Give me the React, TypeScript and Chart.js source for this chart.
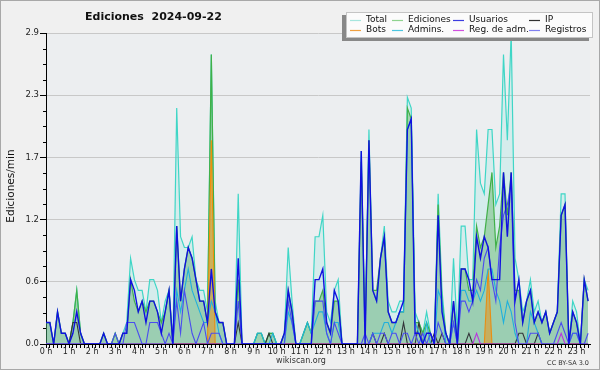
import React, { useEffect, useRef } from "react";
import { Chart, registerables } from "chart.js";
Chart.register(...registerables);

// ---- data (10-minute bins, edits/min) ----
const hourLabels = [
  "0 h", "1 h", "2 h", "3 h", "4 h", "5 h", "6 h", "7 h", "8 h", "9 h", "10 h", "11 h",
  "12 h", "13 h", "14 h", "15 h", "16 h", "17 h", "18 h", "19 h", "20 h", "21 h", "22 h", "23 h",
];
const yTickValues = [0, 0.58, 1.16, 1.74, 2.32, 2.9];

const total = [
  0.2, 0.2, 0, 0.3, 0.1, 0.1,
  0, 0.2, 0.5, 0.1, 0, 0,
  0, 0, 0, 0.1, 0, 0,
  0.1, 0, 0.1, 0.2, 0.8, 0.6,
  0.5, 0.5, 0.3, 0.6, 0.6, 0.5,
  0.2, 0.4, 0.5, 0, 2.2, 1.0,
  0.9, 0.9, 1.0, 0.6, 0.5, 0.5,
  0.3, 2.7, 0.4, 0.2, 0.2, 0,
  0, 0, 1.4, 0, 0, 0,
  0, 0.1, 0.1, 0, 0.1, 0.1,
  0, 0, 0.1, 0.9, 0.4, 0,
  0, 0.1, 0.2, 0.1, 1.0, 1.0,
  1.2, 0.3, 0.2, 0.5, 0.6, 0,
  0, 0, 0, 0, 1.8, 0.1,
  2.0, 0.5, 0.4, 0.8, 1.1, 0.4,
  0.3, 0.3, 0.4, 0.4, 2.3, 2.2,
  0.3, 0.2, 0.1, 0.3, 0.1, 0,
  1.4, 0.5, 0.1, 0, 0.8, 0.1,
  1.1, 1.1, 0.6, 0.6, 2.0, 1.5,
  1.4, 2.0, 2.0, 1.3, 1.4, 2.7,
  1.9, 2.9, 0.8, 0.6, 0.3, 0.4,
  0.6, 0.3, 0.4, 0.2, 0.3, 0.1,
  0.2, 0.3, 1.4, 1.4, 0, 0.4,
  0.3, 0, 0.6, 0.5,
];
const ediciones = [
  0.2, 0.2, 0, 0.3, 0.1, 0.1,
  0, 0.2, 0.5, 0.1, 0, 0,
  0, 0, 0, 0.1, 0, 0,
  0.1, 0, 0.1, 0.1, 0.6, 0.4,
  0.3, 0.4, 0.3, 0.4, 0.4, 0.3,
  0.2, 0.3, 0.5, 0, 1.1, 0.4,
  0.7, 0.9, 0.8, 0.6, 0.4, 0.4,
  0.2, 2.7, 0.3, 0.2, 0.2, 0,
  0, 0, 0.6, 0, 0, 0,
  0, 0.1, 0.1, 0, 0.1, 0.1,
  0, 0, 0.1, 0.5, 0.3, 0,
  0, 0.1, 0.2, 0.1, 0.4, 0.4,
  0.5, 0.2, 0.1, 0.4, 0.4, 0,
  0, 0, 0, 0, 1.7, 0.1,
  1.9, 0.5, 0.5, 0.8, 1.0, 0.3,
  0.2, 0.2, 0.3, 0.3, 2.2, 2.1,
  0.2, 0.2, 0.1, 0.2, 0.1, 0,
  1.3, 0.4, 0.1, 0, 0.4, 0,
  0.7, 0.7, 0.5, 0.5, 1.1, 0.9,
  1.0, 1.3, 1.6, 0.9, 1.1, 1.6,
  1.2, 1.6, 0.5, 0.5, 0.2, 0.4,
  0.5, 0.2, 0.3, 0.2, 0.3, 0.1,
  0.2, 0.3, 1.2, 1.3, 0, 0.3,
  0.2, 0, 0.6, 0.4,
];
const usuarios = [
  0.2, 0.2, 0, 0.3, 0.1, 0.1,
  0, 0.1, 0.3, 0.1, 0, 0,
  0, 0, 0, 0.1, 0, 0,
  0, 0, 0.1, 0.1, 0.6, 0.5,
  0.3, 0.4, 0.2, 0.4, 0.4, 0.3,
  0.1, 0.3, 0.5, 0, 1.1, 0.4,
  0.7, 0.9, 0.8, 0.6, 0.4, 0.4,
  0.2, 0.7, 0.3, 0.2, 0.2, 0,
  0, 0, 0.8, 0, 0, 0,
  0, 0, 0, 0, 0, 0,
  0, 0, 0.1, 0.5, 0.3, 0,
  0, 0, 0, 0, 0.6, 0.6,
  0.7, 0.2, 0.1, 0.5, 0.4, 0,
  0, 0, 0, 0, 1.8, 0,
  1.9, 0.5, 0.4, 0.8, 1.0, 0.3,
  0.2, 0.2, 0.3, 0.4, 2.0, 2.1,
  0.1, 0.1, 0, 0.1, 0.1, 0,
  1.2, 0.3, 0.1, 0, 0.4, 0,
  0.7, 0.7, 0.6, 0.4, 1.0, 0.8,
  1.0, 0.9, 0.6, 0.6, 0.6, 1.6,
  1.0, 1.6, 0.4, 0.6, 0.2, 0.4,
  0.5, 0.2, 0.3, 0.2, 0.3, 0.1,
  0.2, 0.3, 1.2, 1.3, 0, 0.3,
  0.2, 0, 0.6, 0.4,
];
const ip = [
  0, 0, 0, 0, 0, 0,
  0, 0.2, 0.2, 0, 0, 0,
  0, 0, 0, 0, 0, 0,
  0, 0, 0, 0, 0, 0,
  0, 0, 0, 0, 0, 0,
  0, 0, 0, 0, 0, 0,
  0, 0, 0, 0, 0, 0,
  0, 0, 0, 0, 0, 0,
  0, 0, 0.2, 0, 0, 0,
  0, 0, 0, 0, 0.1, 0,
  0, 0, 0, 0, 0, 0,
  0, 0, 0, 0, 0, 0,
  0, 0, 0, 0, 0, 0,
  0, 0, 0, 0, 0, 0,
  0, 0.1, 0, 0, 0.1, 0,
  0, 0, 0, 0.2, 0, 0,
  0, 0.2, 0, 0, 0, 0.1,
  0, 0.1, 0, 0, 0, 0,
  0, 0, 0.1, 0, 0, 0,
  0, 0, 0, 0, 0, 0,
  0, 0, 0, 0.1, 0.1, 0,
  0, 0, 0.1, 0, 0, 0,
  0, 0, 0, 0, 0, 0,
  0, 0, 0, 0,
];
const bots = [
  0, 0, 0, 0, 0, 0,
  0, 0, 0, 0, 0, 0,
  0, 0, 0, 0, 0, 0,
  0, 0, 0, 0, 0, 0,
  0, 0, 0, 0, 0, 0,
  0, 0, 0, 0, 0, 0,
  0, 0, 0, 0, 0, 0,
  0, 1.9, 0, 0, 0, 0,
  0, 0, 0, 0, 0, 0,
  0, 0, 0, 0, 0, 0,
  0, 0, 0, 0, 0, 0,
  0, 0, 0, 0, 0, 0,
  0, 0, 0, 0, 0, 0,
  0, 0, 0, 0, 0, 0,
  0, 0, 0, 0, 0, 0,
  0, 0, 0, 0, 0, 0,
  0, 0, 0, 0, 0, 0,
  0, 0, 0, 0, 0, 0,
  0, 0, 0, 0, 0, 0,
  0, 0.7, 0, 0, 0, 0,
  0, 0, 0, 0, 0, 0,
  0, 0, 0, 0, 0, 0,
  0, 0, 0, 0, 0, 0,
  0, 0, 0, 0,
];
const admins = [
  0, 0, 0, 0, 0, 0,
  0, 0, 0, 0, 0, 0,
  0, 0, 0, 0, 0, 0,
  0, 0, 0, 0, 0, 0,
  0, 0, 0, 0, 0, 0,
  0, 0, 0, 0, 0.5, 0.3,
  0.5, 0.7, 0.5, 0.4, 0.3, 0.2,
  0.2, 0.4, 0.3, 0.1, 0, 0,
  0, 0, 0, 0, 0, 0,
  0, 0.1, 0.1, 0, 0, 0.1,
  0, 0, 0, 0.3, 0.2, 0,
  0, 0.1, 0.2, 0.1, 0.2, 0.3,
  0.3, 0.1, 0, 0.2, 0.2, 0,
  0, 0, 0, 0, 0, 0,
  0, 0.1, 0.1, 0.1, 0.2, 0.2,
  0.1, 0.2, 0.3, 0.3, 2.0, 2.1,
  0.2, 0.1, 0, 0.2, 0, 0,
  0.5, 0.4, 0, 0, 0.2, 0,
  0.5, 0.5, 0.4, 0.4, 0.5, 0.4,
  0.5, 0.7, 0.7, 0.5, 0.4, 0.2,
  0.4, 0.3, 0.1, 0, 0, 0,
  0.3, 0.2, 0.1, 0, 0, 0,
  0, 0, 0, 0, 0, 0.1,
  0.1, 0, 0, 0,
];
const regAdm = [
  0, 0, 0, 0, 0, 0,
  0, 0, 0, 0, 0, 0,
  0, 0, 0, 0, 0, 0,
  0, 0, 0, 0, 0, 0,
  0, 0, 0, 0, 0, 0,
  0, 0, 0, 0, 0, 0,
  0, 0, 0, 0, 0, 0,
  0, 0, 0, 0, 0, 0,
  0, 0, 0, 0, 0, 0,
  0, 0, 0, 0, 0, 0,
  0, 0, 0, 0, 0, 0,
  0, 0, 0, 0, 0, 0,
  0, 0, 0, 0, 0, 0,
  0, 0, 0, 0, 0, 0,
  0, 0, 0, 0, 0, 0,
  0, 0, 0, 0, 0, 0,
  0, 0, 0, 0, 0, 0,
  0, 0, 0, 0, 0, 0,
  0, 0, 0, 0, 0.1, 0,
  0, 0, 0, 0, 0, 0,
  0, 0, 0, 0, 0, 0,
  0, 0, 0, 0, 0, 0,
  0, 0, 0.1, 0, 0, 0,
  0, 0, 0, 0,
];
const registros = [
  0, 0, 0, 0, 0, 0,
  0, 0, 0, 0, 0, 0,
  0, 0, 0, 0, 0, 0,
  0.1, 0, 0, 0.2, 0.2, 0.2,
  0.1, 0, 0, 0.2, 0.2, 0.2,
  0.1, 0, 0.1, 0, 0.4, 0.1,
  0.5, 0.3, 0.1, 0, 0.1, 0.2,
  0, 0.1, 0.1, 0.1, 0, 0,
  0, 0, 0.4, 0, 0, 0,
  0, 0, 0, 0, 0, 0,
  0, 0, 0, 0.4, 0.2, 0,
  0, 0, 0, 0, 0.4, 0.4,
  0.4, 0.1, 0, 0.2, 0.1, 0,
  0, 0, 0, 0, 0, 0.1,
  0, 0.1, 0, 0.1, 0.1, 0,
  0.1, 0.1, 0, 0.1, 0.1, 0,
  0.1, 0, 0.1, 0, 0.1, 0,
  0.2, 0.1, 0, 0, 0.2, 0,
  0.4, 0.4, 0.3, 0.4, 0.6, 0.5,
  0.8, 0.9, 0.6, 0.4, 0.9, 1.2,
  1.3, 1.5, 0.2, 0, 0, 0,
  0.1, 0.1, 0.1, 0, 0, 0,
  0, 0.1, 0.2, 0.1, 0, 0.1,
  0.1, 0, 0, 0.1,
];

const seriesNames = ["Total", "Ediciones", "Usuarios", "IP", "Bots", "Admins.", "Reg. de adm.", "Registros"];
const seriesValues = [total, ediciones, usuarios, ip, bots, admins, regAdm, registros];
const lineColors = ["#3fd6c6", "#40b048", "#1010e0", "#333333", "#f0900c", "#20b4dc", "#c030e0", "#4c4cf0"];
const fillColors = [
  "rgba(64,224,208,0.13)",
  "rgba(80,175,88,0.40)",
  "rgba(60,90,230,0.04)",
  null,
  "rgba(240,150,20,0.55)",
  null,
  null,
  null,
];
const drawOrder = [8, 7, 1, 5, 6, 4, 3, 2];
const lineWidths = [1.2, 1.2, 1.4, 1.1, 1.1, 1.1, 1.1, 1.1];
const legendColors = ["#a6e6de", "#8fd38f", "#3c3ce0", "#303030", "#f0a040", "#4cc6e0", "#d050e0", "#8080f0"];

const FONT = "DejaVu Sans";

const decorPlugin = {
  id: "decor",
  beforeDraw(chart: any) {
    const { ctx, chartArea: a } = chart;
    ctx.save();
    ctx.fillStyle = "#f0f0f0";
    ctx.fillRect(0, 0, chart.width, chart.height);
    ctx.fillStyle = "#eceef0";
    ctx.fillRect(a.left, a.top, a.right - a.left, a.bottom - a.top);
    ctx.restore();
  },
  afterDraw(chart: any) {
    const { ctx, chartArea: a } = chart;
    const ys = chart.scales.y;
    ctx.save();
    // outer frame
    ctx.strokeStyle = "#a8a8a8";
    ctx.lineWidth = 1;
    ctx.strokeRect(0.5, 0.5, chart.width - 1, chart.height - 1);
    // minor y ticks
    ctx.strokeStyle = "#000";
    for (let k = 1; k < 20; k++) {
      if (k % 4 === 0) continue;
      const y = Math.round(ys.getPixelForValue(k * 0.145)) + 0.5;
      ctx.beginPath();
      ctx.moveTo(a.left - 3, y);
      ctx.lineTo(a.left, y);
      ctx.stroke();
    }
    // title
    ctx.fillStyle = "#111";
    ctx.font = `bold 11px "${FONT}"`;
    ctx.textBaseline = "middle";
    ctx.textAlign = "left";
    ctx.fillText("Ediciones  2024-09-22", 85, 17);
    // y title
    ctx.save();
    ctx.translate(11, 186);
    ctx.rotate(-Math.PI / 2);
    ctx.font = `10.5px "${FONT}"`;
    ctx.textAlign = "center";
    ctx.fillText("Ediciones/min", 0, 0);
    ctx.restore();
    // footer
    ctx.fillStyle = "#333";
    ctx.font = `8px "${FONT}"`;
    ctx.textAlign = "center";
    ctx.fillText("wikiscan.org", 301, 361);
    ctx.font = `6.5px "${FONT}"`;
    ctx.textAlign = "right";
    ctx.fillText("CC BY-SA 3.0", 589, 363);
    // legend
    const bx = 346, by = 12, bw = 247, bh = 26;
    ctx.fillStyle = "#888888";
    ctx.fillRect(bx - 4, by + 3, bw, bh);
    ctx.fillStyle = "#fbfbfb";
    ctx.fillRect(bx, by, bw, bh);
    ctx.strokeStyle = "#c4c4c4";
    ctx.strokeRect(bx + 0.5, by + 0.5, bw - 1, bh - 1);
    const colX = [366, 408, 469, 545];
    const rowY = [19.5, 29.5];
    ctx.font = `9px "${FONT}"`;
    ctx.textAlign = "left";
    ctx.textBaseline = "middle";
    seriesNames.forEach((name, i) => {
      const c = i % 4, r = Math.floor(i / 4);
      const tx = colX[c], ty = rowY[r];
      ctx.strokeStyle = legendColors[i];
      ctx.lineWidth = 1.2;
      ctx.beginPath();
      ctx.moveTo(tx - 16, Math.round(ty) + 0.5);
      ctx.lineTo(tx - 5, Math.round(ty) + 0.5);
      ctx.stroke();
      ctx.fillStyle = "#111";
      ctx.fillText(name, tx, ty);
    });
    ctx.restore();
  },
};

export default function App() {
  const ref = useRef<HTMLCanvasElement>(null);
  useEffect(() => {
    document.body.style.margin = "0";
    const n = total.length;
    const datasets = seriesValues.map((vals, i) => ({
      label: seriesNames[i],
      data: vals.map((v, k) => ({ x: k, y: v })),
      borderColor: lineColors[i],
      borderWidth: lineWidths[i],
      backgroundColor: fillColors[i] || "transparent",
      fill: fillColors[i] ? "origin" : false,
      order: drawOrder[i],
      pointRadius: 0,
      tension: 0,
    }));
    const chart = new Chart(ref.current as HTMLCanvasElement, {
      type: "line",
      data: { datasets },
      options: {
        responsive: false,
        animation: false,
        devicePixelRatio: 1,
        layout: { padding: { left: 0, right: 10, top: 33, bottom: 0 } },
        plugins: { legend: { display: false }, tooltip: { enabled: false }, title: { display: false } },
        scales: {
          x: {
            type: "linear",
            min: 0,
            max: 141.5,
            afterFit: (s: any) => { s.height = 26; },
            afterBuildTicks: (s: any) => {
              s.ticks = Array.from({ length: n }, (_, i) => ({ value: i }));
            },
            ticks: {
              autoSkip: false,
              maxRotation: 0,
              minRotation: 0,
              padding: -1,
              color: "#222",
              font: { family: FONT, size: 8 },
              callback: (v: any) => (Number(v) % 6 === 0 ? hourLabels[Number(v) / 6] : ""),
            },
            grid: { drawOnChartArea: false, drawTicks: true, tickLength: 4, color: "#000", tickColor: "#000" },
            border: { color: "#000", width: 1 },
          },
          y: {
            min: 0,
            max: 2.9,
            afterFit: (s: any) => { s.width = 46; },
            afterBuildTicks: (s: any) => {
              s.ticks = yTickValues.map((v) => ({ value: v }));
            },
            ticks: {
              padding: 1,
              color: "#222",
              font: { family: FONT, size: 8.5 },
              callback: (v: any) => Number(v).toFixed(1),
            },
            grid: { color: "#c8c8c8", tickColor: "#000", tickLength: 6 },
            border: { color: "#000", width: 1 },
          },
        },
      },
      plugins: [decorPlugin],
    } as any);
    return () => chart.destroy();
  }, []);
  return (
    <div style={{ width: 600, height: 370 }}>
      <canvas ref={ref} width={600} height={370} style={{ display: "block" }} />
    </div>
  );
}
